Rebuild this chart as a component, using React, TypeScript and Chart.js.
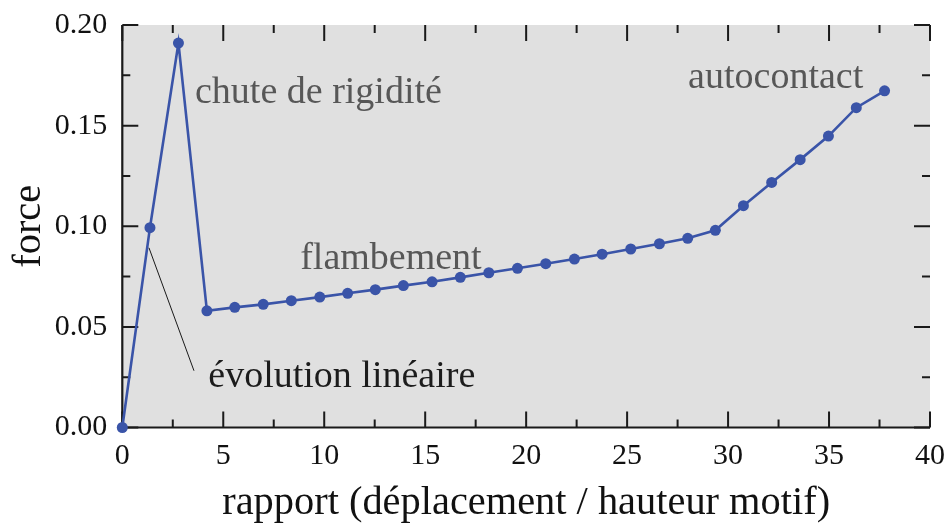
import React, { useEffect, useRef } from "react";
import { Chart, registerables } from "chart.js";

Chart.register(...registerables);

// ---- data ----
const xValues = [0, 1.37, 2.78, 4.19, 5.57, 6.98, 8.37, 9.78, 11.16, 12.53, 13.92, 15.34, 16.74, 18.15, 19.57, 20.97, 22.39, 23.76, 25.18, 26.6, 28.0, 29.37, 30.76, 32.16, 33.57, 34.97, 36.35, 37.75];
const yValues = [0, 0.0993, 0.191, 0.058, 0.0597, 0.0612, 0.063, 0.0648, 0.0667, 0.0685, 0.0705, 0.0724, 0.0746, 0.0769, 0.0791, 0.0814, 0.0837, 0.0861, 0.0887, 0.0913, 0.094, 0.098, 0.1102, 0.1218, 0.1331, 0.1448, 0.1589, 0.1673];

const xTickValues = [0, 5, 10, 15, 20, 25, 30, 35, 40];
const yTickValues = [0, 0.05, 0.1, 0.15, 0.2];

const xTitle = "rapport (déplacement / hauteur motif)";
const yTitle = "force";

// annotations in data coordinates
const noteTexts = ["chute de rigidité", "autocontact", "flambement", "évolution linéaire"];
const noteX = [3.6, 28.02, 8.81, 4.26];
const noteY = [0.1612, 0.1685, 0.0788, 0.02];
const noteColors = ["#575757", "#575757", "#575757", "#1c1c1c"];
const leaderX = [1.32, 3.55];
const leaderY = [0.0893, 0.0282];

const SERIF = "'Liberation Serif', 'Times New Roman', serif";

const zeroPadding = (scale: any) => {
  scale.paddingTop = 0;
  scale.paddingBottom = 0;
  scale.paddingLeft = 0;
  scale.paddingRight = 0;
};

const framePlugin = {
  id: "framePlugin",
  beforeDatasetsDraw(chart: any) {
    const { ctx, chartArea } = chart;
    const xs = chart.scales.x;
    const ys = chart.scales.y;
    const { left, right, top, bottom } = chartArea;
    ctx.save();
    ctx.fillStyle = "#e0e0e0";
    ctx.fillRect(left, top, right - left, bottom - top);

    ctx.strokeStyle = "#1a1a1a";
    ctx.lineWidth = 2.2;
    ctx.lineCap = "butt";
    ctx.beginPath();
    ctx.moveTo(left, top);
    ctx.lineTo(left, bottom + 1);
    ctx.moveTo(left - 1, bottom);
    ctx.lineTo(right, bottom);
    ctx.stroke();

    const major = 16;
    const minor = 8;
    ctx.lineWidth = 2;
    ctx.beginPath();
    for (let v = 0; v <= 40 + 1e-9; v += 2.5) {
      const px = xs.getPixelForValue(v);
      const len = Math.abs(v % 5) < 1e-6 ? major : minor;
      ctx.moveTo(px, bottom);
      ctx.lineTo(px, bottom - len);
      ctx.moveTo(px, top);
      ctx.lineTo(px, top + len);
    }
    for (let i = 0; i <= 8; i++) {
      const v = i * 0.025;
      const py = ys.getPixelForValue(v);
      const len = i % 2 === 0 ? major : minor;
      ctx.moveTo(left, py);
      ctx.lineTo(left + len, py);
      ctx.moveTo(right, py);
      ctx.lineTo(right - len, py);
    }
    ctx.stroke();
    ctx.restore();
  },
  afterDatasetsDraw(chart: any) {
    const { ctx } = chart;
    const xs = chart.scales.x;
    const ys = chart.scales.y;
    ctx.save();
    ctx.strokeStyle = "#1a1a1a";
    ctx.lineWidth = 1;
    ctx.beginPath();
    ctx.moveTo(xs.getPixelForValue(leaderX[0]), ys.getPixelForValue(leaderY[0]));
    ctx.lineTo(xs.getPixelForValue(leaderX[1]), ys.getPixelForValue(leaderY[1]));
    ctx.stroke();
    ctx.font = `38px ${SERIF}`;
    ctx.textAlign = "left";
    ctx.textBaseline = "alphabetic";
    noteTexts.forEach((t, i) => {
      ctx.fillStyle = noteColors[i];
      ctx.fillText(t, xs.getPixelForValue(noteX[i]), ys.getPixelForValue(noteY[i]));
    });
    ctx.restore();
  },
};

export default function App() {
  const ref = useRef<HTMLCanvasElement | null>(null);
  useEffect(() => {
    document.body.style.margin = "0";
    const canvas = ref.current;
    if (!canvas) return;
    const chart = new Chart(canvas, {
      type: "line",
      data: {
        datasets: [
          {
            data: xValues.map((x, i) => ({ x, y: yValues[i] })),
            borderColor: "#3a54a8",
            backgroundColor: "#3a54a8",
            borderWidth: 2.6,
            pointRadius: 5.5,
            pointBorderWidth: 0,
            pointBackgroundColor: "#3a54a8",
            tension: 0,
            clip: false as any,
          },
        ],
      },
      options: {
        responsive: false,
        animation: false,
        devicePixelRatio: 1,
        layout: { padding: { top: 25, right: 18, left: 0, bottom: 0 } },
        plugins: { legend: { display: false }, tooltip: { enabled: false } },
        scales: {
          x: {
            type: "linear",
            min: 0,
            max: 40,
            afterBuildTicks: (scale: any) => {
              scale.ticks = xTickValues.map((v) => ({ value: v }));
            },
            ticks: {
              font: { family: SERIF, size: 30, lineHeight: 1.2 },
              color: "#111",
              padding: 11,
              maxRotation: 0,
              autoSkip: false,
              callback: (v: any) => String(v),
            },
            grid: { display: false, drawTicks: false },
            border: { display: false },
            title: {
              display: true,
              text: xTitle,
              font: { family: SERIF, size: 40.4, lineHeight: 1.0 },
              color: "#111",
              padding: { top: 0, bottom: 3 },
            },
            afterFit: (scale: any) => {
              scale.height = 99.5;
              zeroPadding(scale);
            },
          },
          y: {
            type: "linear",
            min: 0,
            max: 0.2,
            afterBuildTicks: (scale: any) => {
              scale.ticks = yTickValues.map((v) => ({ value: v }));
            },
            ticks: {
              font: { family: SERIF, size: 30, lineHeight: 1.2 },
              color: "#111",
              padding: 15,
              autoSkip: false,
              callback: (v: any) => Number(v).toFixed(2),
            },
            grid: { display: false, drawTicks: false },
            border: { display: false },
            title: {
              display: true,
              text: yTitle,
              font: { family: SERIF, size: 40.4, lineHeight: 1.0 },
              color: "#111",
              padding: { top: 9, bottom: 0 },
            },
            afterFit: (scale: any) => {
              scale.width = 122.3;
              zeroPadding(scale);
            },
          },
        },
      },
      plugins: [framePlugin],
    });
    return () => chart.destroy();
  }, []);
  return (
    <div style={{ width: 948, height: 527 }}>
      <canvas ref={ref} width={948} height={527} style={{ display: "block" }} />
    </div>
  );
}
